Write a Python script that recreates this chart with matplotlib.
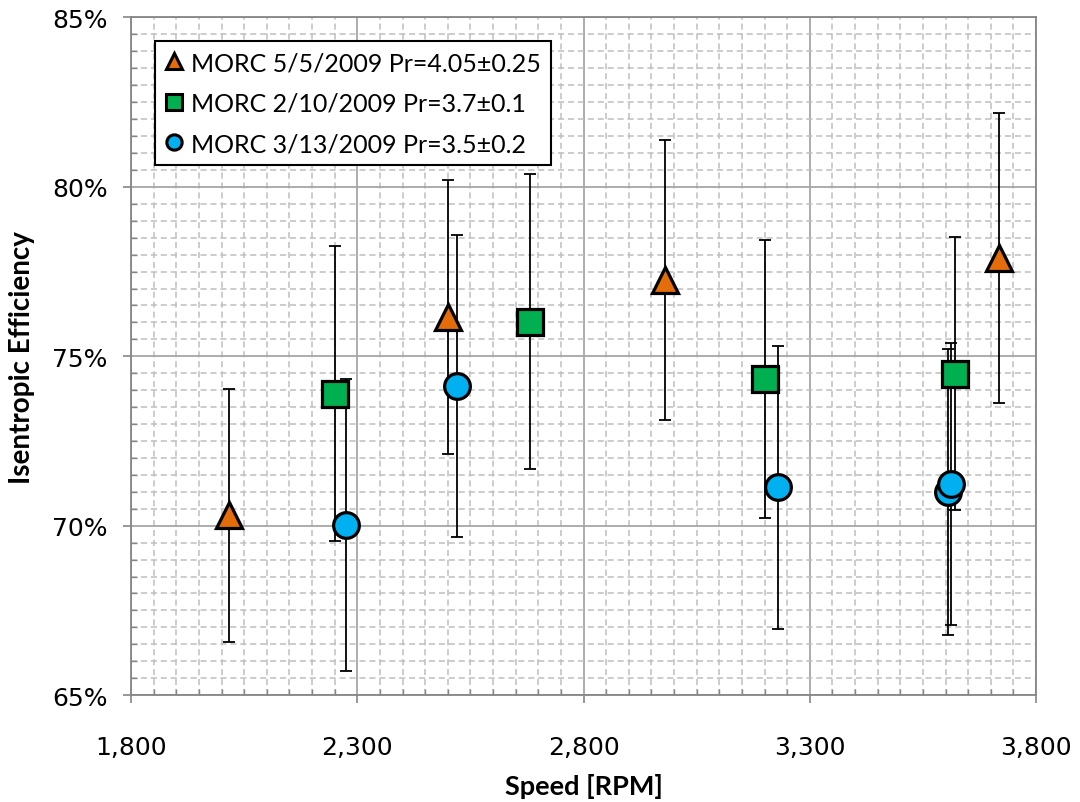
import matplotlib
matplotlib.use("Agg")
import matplotlib.pyplot as plt
from matplotlib.lines import Line2D
from matplotlib.ticker import FixedLocator, MultipleLocator, FuncFormatter

# Test series: speed [RPM], isentropic efficiency [%], symmetric uncertainty [%]
may_speed = [2016, 2501, 2981, 3719]
may_eff = [70.31, 76.16, 77.26, 77.90]
may_err = [3.73, 4.05, 4.13, 4.27]

feb_speed = [2250, 2681, 3201, 3620]
feb_eff = [73.90, 76.02, 74.33, 74.49]
feb_err = [4.36, 4.35, 4.10, 4.03]

mar_speed = [2276, 2521, 3230, 3606, 3611]
mar_eff = [70.02, 74.13, 71.13, 71.00, 71.22]
mar_err = [4.30, 4.45, 4.17, 4.23, 4.16]

speed_ticks = [1800, 2300, 2800, 3300, 3800]
eff_ticks = [65, 70, 75, 80, 85]

labels = ["MORC 5/5/2009 Pr=4.05±0.25",
          "MORC 2/10/2009 Pr=3.7±0.1",
          "MORC 3/13/2009 Pr=3.5±0.2"]
colors = ["#E46C0A", "#00B050", "#00B0F0"]
markers = ["^", "s", "o"]

fig = plt.figure(figsize=(10.8, 8.03), dpi=100)
ax = fig.add_axes([0.1213, 0.1331, 0.838, 0.8439])

series = [(may_speed, may_eff, may_err),
          (feb_speed, feb_eff, feb_err),
          (mar_speed, mar_eff, mar_err)]

for (xs, ys, es), c, m in zip(series, colors, markers):
    ax.errorbar(xs, ys, yerr=es, fmt="none", ecolor="black",
                elinewidth=1.3, capsize=4, capthick=1.3, zorder=3)
for (xs, ys, es), c, m in zip(series, colors, markers):
    ax.plot(xs, ys, linestyle="none", marker=m, markersize=18.5,
            markerfacecolor=c, markeredgecolor="black",
            markeredgewidth=2.3, zorder=4)

ax.set_xlim(speed_ticks[0], speed_ticks[-1])
ax.set_ylim(eff_ticks[0], eff_ticks[-1])
ax.xaxis.set_major_locator(FixedLocator(speed_ticks))
ax.xaxis.set_minor_locator(MultipleLocator(50))
ax.yaxis.set_major_locator(FixedLocator(eff_ticks))
ax.yaxis.set_minor_locator(MultipleLocator(0.5))
ax.xaxis.set_major_formatter(FuncFormatter(lambda v, p: f"{v:,.0f}"))
ax.yaxis.set_major_formatter(FuncFormatter(lambda v, p: f"{v:.0f}%"))

ax.grid(which="major", color="#A6A6A6", linewidth=1.3, linestyle="-", zorder=0)
ax.grid(which="minor", color="#BFBFBF", linewidth=1.1, linestyle=(0, (4, 2.5)), zorder=0)
ax.set_axisbelow(True)

for s in ax.spines.values():
    s.set_color("#868686")
    s.set_linewidth(1.3)

ax.tick_params(which="major", direction="out", length=6, width=1.2,
               color="#868686", labelsize=18, labelcolor="black")
ax.tick_params(axis="x", which="major", pad=23)
ax.tick_params(axis="y", which="major", pad=11)
ax.tick_params(which="minor", direction="in", length=4, width=1.0, color="#868686")
for lab in ax.get_xticklabels() + ax.get_yticklabels():
    lab.set_fontfamily("DejaVu Sans")

ax.set_xlabel("Speed [RPM]", fontsize=19.5, fontweight="bold", family="Lato", labelpad=10)
ax.set_ylabel("Isentropic Efficiency", fontsize=20, fontweight="bold", family="Lato", labelpad=12)

handles = [Line2D([], [], linestyle="none", marker=m, markersize=11,
                  markerfacecolor=c, markeredgecolor="black", markeredgewidth=2.2)
           for c, m in zip(colors, markers)]
leg = ax.legend(handles, labels, loc="upper left", bbox_to_anchor=(0.0265, 0.965),
                borderaxespad=0, frameon=True, fancybox=False, framealpha=1,
                edgecolor="black", handlelength=0.7, handletextpad=0.35,
                labelspacing=0.7, borderpad=0.4,
                prop={"family": ["Lato", "DejaVu Sans"], "size": 18})
leg.get_frame().set_linewidth(1.5)
leg.set_zorder(5)

fig.savefig("out.png", dpi=100)
